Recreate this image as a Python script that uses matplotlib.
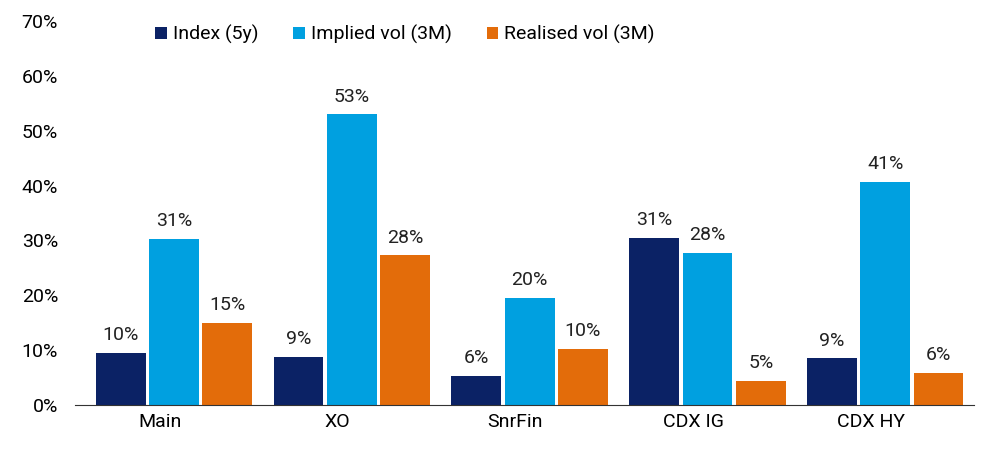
import matplotlib
matplotlib.use("Agg")
import matplotlib.pyplot as plt
import numpy as np

categories = ["Main", "XO", "SnrFin", "CDX IG", "CDX HY"]
index_5y = [9.5, 8.8, 5.3, 30.5, 8.5]
implied_vol = [30.3, 53.0, 19.5, 27.7, 40.7]
realised_vol = [15.0, 27.3, 10.2, 4.4, 5.8]
index_lbl = [10, 9, 6, 31, 9]
implied_lbl = [31, 53, 20, 28, 41]
realised_lbl = [15, 28, 10, 5, 6]

plt.rcParams['font.family'] = ['Roboto', 'DejaVu Sans']
fig = plt.figure(figsize=(9.84, 4.5), dpi=100)
ax = fig.add_axes([0.076, 0.1, 0.914, 0.853])

x = np.arange(len(categories))
w = 0.28
off = 0.30
shift = 0.08  # bar groups sit a little right of the category labels
series = [
    (index_5y, index_lbl, "#0b2265", "Index (5y)"),
    (implied_vol, implied_lbl, "#00a0e0", "Implied vol (3M)"),
    (realised_vol, realised_lbl, "#e36c0a", "Realised vol (3M)"),
]
for i, (vals, lbls, col, name) in enumerate(series):
    pos = x + shift + (i - 1) * off
    ax.bar(pos, vals, width=w, color=col, label=name)
    for p, v, l in zip(pos, vals, lbls):
        ax.text(p, v + 1.6, f"{l}%", ha="center", va="bottom", fontsize=14, color="#222222")

ax.set_ylim(0, 70)
ax.set_xlim(-0.478, 4.58)
ax.set_yticks(range(0, 71, 10))
ax.set_yticklabels([f"{t}%" for t in range(0, 71, 10)], fontsize=14)
ax.set_xticks(x)
ax.set_xticklabels(categories, fontsize=14)
ax.tick_params(axis="y", length=0, pad=12)
ax.tick_params(axis="x", length=0, pad=6)
for s in ["top", "right", "left"]:
    ax.spines[s].set_visible(False)
ax.spines["bottom"].set_color("#333333")

ax.legend(loc="upper left", bbox_to_anchor=(0.07, 1.035), ncol=3, frameon=False,
          fontsize=14, handlelength=0.6, handleheight=0.6, handletextpad=0.3,
          columnspacing=1.8)

fig.savefig("out.png", dpi=100)
